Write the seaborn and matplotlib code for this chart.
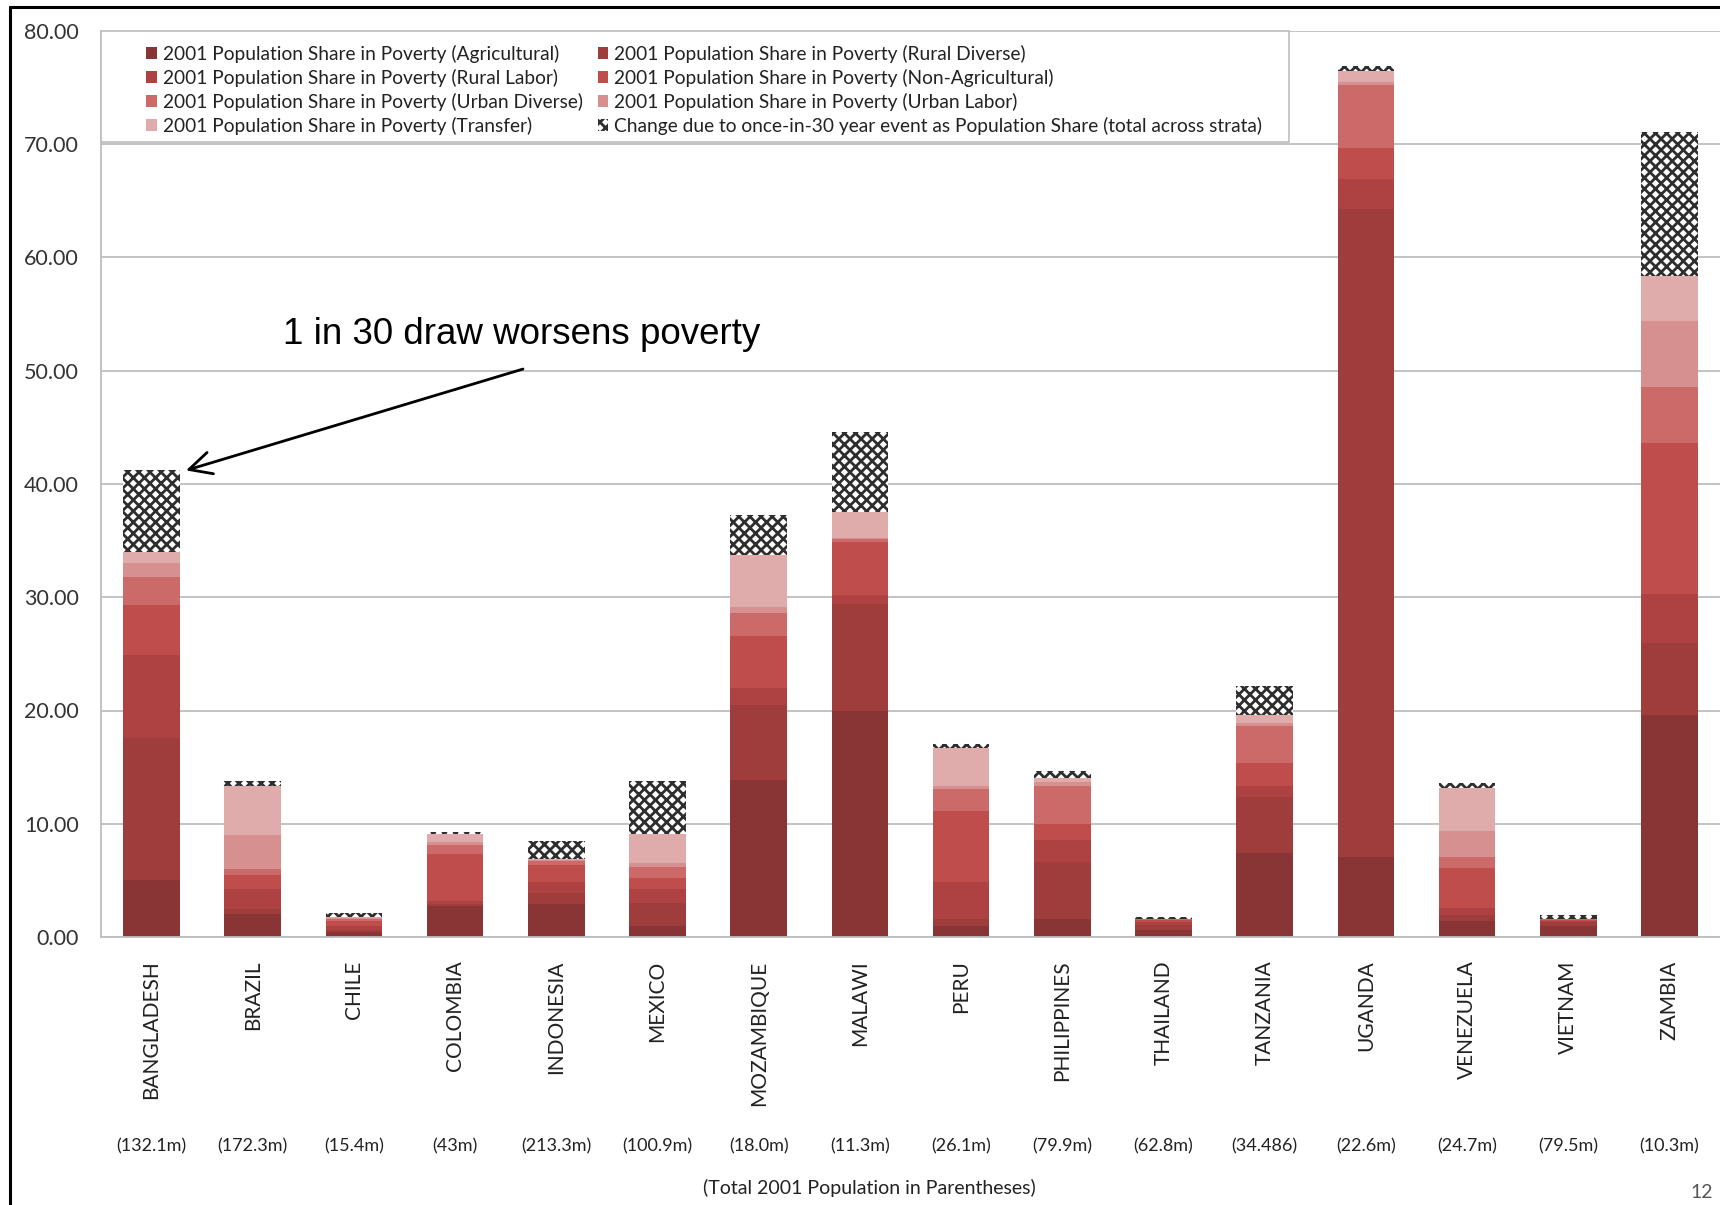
import numpy as np
import pandas as pd
import matplotlib
matplotlib.use("Agg")
import matplotlib.pyplot as plt
import seaborn as sns
from matplotlib.lines import Line2D
from matplotlib.patches import Rectangle
from matplotlib.ticker import FormatStrFormatter

# ---- data -------------------------------------------------------------
countries = ["BANGLADESH", "BRAZIL", "CHILE", "COLOMBIA", "INDONESIA", "MEXICO",
             "MOZAMBIQUE", "MALAWI", "PERU", "PHILIPPINES", "THAILAND", "TANZANIA",
             "UGANDA", "VENEZUELA", "VIETNAM", "ZAMBIA"]
populations = ["(132.1m)", "(172.3m)", "(15.4m)", "(43m)", "(213.3m)", "(100.9m)",
               "(18.0m)", "(11.3m)", "(26.1m)", "(79.9m)", "(62.8m)", "(34.486)",
               "(22.6m)", "(24.7m)", "(79.5m)", "(10.3m)"]

agricultural  = [5.0, 2.0, 0.4, 2.7, 2.9, 1.0, 13.9, 20.0, 1.0, 1.6, 0.6, 7.4, 7.1, 1.4, 1.0, 19.6]
rural_diverse = [12.6, 0.5, 0.2, 0.2, 1.0, 2.0, 6.6, 9.4, 0.6, 5.0, 0.5, 5.0, 57.2, 0.5, 0.3, 6.4]
rural_labor   = [7.3, 1.7, 0.4, 0.3, 1.0, 1.2, 1.5, 0.8, 3.3, 2.0, 0.2, 0.9, 2.6, 0.7, 0.1, 4.3]
non_agri      = [4.4, 1.3, 0.4, 4.1, 1.5, 1.0, 4.6, 4.7, 6.2, 1.4, 0.2, 2.1, 2.8, 3.5, 0.1, 13.3]
urban_diverse = [2.5, 0.5, 0.2, 0.8, 0.3, 1.0, 2.0, 0.2, 2.0, 3.3, 0.05, 3.2, 5.5, 1.0, 0.05, 5.0]
urban_labor   = [1.2, 3.0, 0.1, 0.3, 0.1, 0.3, 0.5, 0.1, 0.2, 0.4, 0.02, 0.3, 0.3, 2.3, 0.02, 5.8]
transfer      = [1.0, 4.3, 0.1, 0.7, 0.1, 2.6, 4.6, 2.3, 3.4, 0.3, 0.03, 0.7, 1.0, 3.8, 0.03, 4.0]
shock_change  = [7.2, 0.5, 0.3, 0.2, 1.6, 4.7, 3.6, 7.1, 0.3, 0.7, 0.2, 2.6, 0.4, 0.4, 0.3, 12.7]

series_labels = [
    "2001 Population Share in Poverty (Agricultural)",
    "2001 Population Share in Poverty (Rural Diverse)",
    "2001 Population Share in Poverty (Rural Labor)",
    "2001 Population Share in Poverty (Non-Agricultural)",
    "2001 Population Share in Poverty (Urban Diverse)",
    "2001 Population Share in Poverty (Urban Labor)",
    "2001 Population Share in Poverty (Transfer)",
    "Change due to once-in-30 year event as Population Share (total across strata)",
]
series_values = [agricultural, rural_diverse, rural_labor, non_agri,
                 urban_diverse, urban_labor, transfer, shock_change]
series_colors = ["#8A3535", "#9E3D3B", "#AE4242", "#BF4D4B",
                 "#CC6A6A", "#D69090", "#E0ABAB", "white"]

# ---- style ------------------------------------------------------------
sns.set_style("white")
plt.rcParams["font.family"] = ["Lato", "DejaVu Sans"]
plt.rcParams["hatch.color"] = "#2E2E2E"
plt.rcParams["hatch.linewidth"] = 2.0

fig = plt.figure(figsize=(17.2, 12.05), dpi=100)
W, H = 1720, 1205
ax_left, ax_right, ax_top, ax_bottom = 101, 1720, 31, 937
ax = fig.add_axes([ax_left / W, 1 - ax_bottom / H,
                   (ax_right - ax_left) / W, (ax_bottom - ax_top) / H])

# stacked bars: cumulative heights drawn from the top layer down
cumulative = np.cumsum(np.array(series_values, dtype=float), axis=0)
for k in range(len(series_values) - 1, -1, -1):
    is_change = k == len(series_values) - 1
    sns.barplot(
        x=countries, y=cumulative[k], order=countries, ax=ax,
        color=series_colors[k], saturation=1, width=0.56, errorbar=None,
        linewidth=0, edgecolor="#2E2E2E" if is_change else series_colors[k],
        hatch="xxx" if is_change else None, label=series_labels[k], zorder=2,
    )

# ---- axes -------------------------------------------------------------
ax.set_xlim(-0.5, len(countries) - 0.5)
ax.set_ylim(0, 80)
ax.set_yticks(np.arange(0, 81, 10))
ax.yaxis.set_major_formatter(FormatStrFormatter("%.2f"))
ax.grid(axis="y", color="#BEBEBE", linewidth=1.3)
ax.set_axisbelow(True)
for side in ("top", "right"):
    ax.spines[side].set_visible(False)
for side in ("left", "bottom"):
    ax.spines[side].set_color("#BEBEBE")
    ax.spines[side].set_linewidth(1.3)
ax.set_xlabel("")
ax.set_ylabel("")
ax.tick_params(axis="y", length=0, pad=16, labelsize=15.5, labelcolor="#333333")
ax.tick_params(axis="x", length=0, pad=17, labelsize=15, labelcolor="#222222")
plt.setp(ax.get_xticklabels(), rotation=90, va="top", ha="center")

# population row and caption below the country names
pop_tf = ax.get_xaxis_transform()
for i, p in enumerate(populations):
    ax.text(i, -(1146 - ax_bottom) / (ax_bottom - ax_top), p, transform=pop_tf,
            ha="center", va="center", fontsize=13, color="#222222", clip_on=False)
ax.text(7.09, -(1188 - ax_bottom) / (ax_bottom - ax_top),
        "(Total 2001 Population in Parentheses)", transform=pop_tf,
        ha="center", va="center", fontsize=14, color="#222222", clip_on=False)

# ---- legend -----------------------------------------------------------
ax.add_patch(Rectangle((0, 0.8775), 0.734, 0.1225, transform=ax.transAxes,
                       facecolor="white", edgecolor="#BEBEBE", linewidth=1.2,
                       zorder=3, clip_on=False))
handles, labels = ax.get_legend_handles_labels()
lookup = dict(zip(labels, handles))
legend_order = [0, 2, 4, 6, 1, 3, 5, 7]
leg = ax.legend([lookup[series_labels[i]] for i in legend_order],
                [series_labels[i] for i in legend_order],
                ncol=2, loc="upper left", bbox_to_anchor=(0.028, 0.985),
                frameon=False, borderpad=0, fontsize=13.8,
                handlelength=0.55, handleheight=0.55, handletextpad=0.3,
                labelspacing=0.31, columnspacing=0.8, borderaxespad=0)
leg.set_zorder(5)
for t in leg.get_texts():
    t.set_color("#222222")

# ---- annotation -------------------------------------------------------
ax.annotate("", xy=(0.34, 41.2), xytext=(3.67, 50.15),
            arrowprops=dict(arrowstyle="->,head_length=0.8,head_width=0.4",
                            mutation_scale=20, lw=2, color="black",
                            shrinkA=0, shrinkB=0), zorder=6)
ax.text(3.66, 53.2, "1 in 30 draw worsens poverty", ha="center", va="center",
        fontsize=26.5, family=["Liberation Sans", "DejaVu Sans"], color="black",
        zorder=6)

# ---- slide frame and page number --------------------------------------
fig.add_artist(Line2D([10 / W, 10 / W], [0, 1 - 7 / H], color="black", lw=2.2))
fig.add_artist(Line2D([10 / W, 1], [1 - 7 / H, 1 - 7 / H], color="black", lw=2.2))
fig.text(1690 / W, 1 - 1184 / H, "12", ha="left", va="top", fontsize=14,
         color="#555555")

fig.savefig("out.png", dpi=100)
